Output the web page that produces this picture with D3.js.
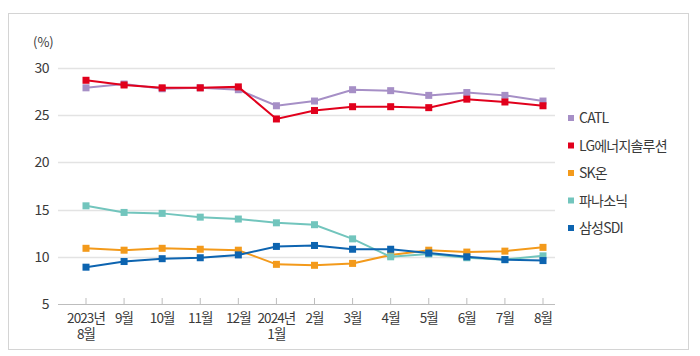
<!DOCTYPE html>
<html><head><meta charset="utf-8">
<script src="https://cdn.jsdelivr.net/npm/d3@7"></script>
<style>
body{margin:0;background:#fff;}
svg text{font-family:"Noto Sans CJK KR","Noto Sans",sans-serif;fill:#3a3a3a;}
</style></head>
<body><svg id="c" width="700" height="356"></svg>
<script>
const months = [["2023년","8월"],["9월"],["10월"],["11월"],["12월"],["2024년","1월"],["2월"],["3월"],["4월"],["5월"],["6월"],["7월"],["8월"]];
const seriesNames = ["CATL","LG에너지솔루션","SK온","파나소닉","삼성SDI"];
const colors = ["#a68fc6","#e1001c","#f39a1b","#72c5bd","#0d64b0"];
const catl = [27.9,28.3,27.8,27.9,27.7,26.0,26.5,27.7,27.6,27.1,27.4,27.1,26.5];
const lg   = [28.7,28.2,27.9,27.9,28.0,24.6,25.5,25.9,25.9,25.8,26.7,26.4,26.0];
const sk   = [10.9,10.7,10.9,10.8,10.7,9.2,9.1,9.3,10.2,10.7,10.5,10.6,11.0];
const pana = [15.4,14.7,14.6,14.2,14.0,13.6,13.4,11.9,10.0,10.3,9.9,9.7,10.1];
const sdi  = [8.9,9.5,9.8,9.9,10.2,11.1,11.2,10.8,10.8,10.4,10.0,9.7,9.6];
const yTicks = [5,10,15,20,25,30];
const allSeries = [catl,lg,sk,pana,sdi];

const svg = d3.select("#c");
// frame
svg.append("rect").attr("x",8.5).attr("y",13.5).attr("width",680).attr("height",336)
  .attr("fill","none").attr("stroke","#d4d4d4").attr("stroke-width",1);

const x = d3.scalePoint().domain(d3.range(months.length)).range([86,543]);
const y = d3.scaleLinear().domain([5,30]).range([304,68]);

// grid
svg.append("g").selectAll("line").data(yTicks.filter(d=>d>5)).join("line")
  .attr("x1",58).attr("x2",555).attr("y1",d=>Math.round(y(d))+0.5).attr("y2",d=>Math.round(y(d))+0.5)
  .attr("stroke","#e3e3e3").attr("stroke-width",1.5);
// x axis line
svg.append("line").attr("x1",58).attr("x2",555).attr("y1",304.5).attr("y2",304.5)
  .attr("stroke","#bdbdbd").attr("stroke-width",1.2);
svg.append("g").selectAll("line").data(d3.range(months.length)).join("line")
  .attr("x1",d=>x(d)).attr("x2",d=>x(d)).attr("y1",298).attr("y2",304)
  .attr("stroke","#bdbdbd");

// y labels
svg.append("g").selectAll("text").data(yTicks).join("text")
  .attr("x",49).attr("y",d=>y(d)+5).attr("text-anchor","end")
  .attr("font-size",14).attr("letter-spacing","-0.5").text(d=>d);
svg.append("text").attr("x",33).attr("y",47).attr("font-size",13).text("(%)");

// x labels (each line its own text)
const xlData = [];
months.forEach((m,i)=>m.forEach((s,k)=>xlData.push({s,i,k})));
svg.append("g").selectAll("text").data(xlData).join("text")
  .attr("text-anchor","middle").attr("font-size",13.5).attr("letter-spacing","-0.9")
  .attr("x",d=>x(d.i)).attr("y",d=>323+d.k*15.5).text(d=>d.s);

// lines
const line = d3.line().x((d,i)=>x(i)).y(d=>y(d));
allSeries.forEach((s,k)=>{
  const g = svg.append("g");
  g.append("path").attr("d",line(s)).attr("fill","none").attr("stroke",colors[k]).attr("stroke-width",2);
  g.selectAll("rect").data(s).join("rect")
    .attr("x",(d,i)=>x(i)-3.5).attr("y",d=>y(d)-3.5).attr("width",7).attr("height",7)
    .attr("fill",colors[k]);
});

// legend
const lgY = [118,145.5,173,200.5,228];
const leg = svg.append("g").selectAll("g").data(seriesNames).join("g")
  .attr("transform",(d,i)=>`translate(568,${lgY[i]})`);
leg.append("rect").attr("x",0).attr("y",-3).attr("width",6).attr("height",6).attr("fill",(d,i)=>colors[i]);
leg.append("text").attr("x",11).attr("y",5).attr("font-size",14).attr("letter-spacing","-0.8").text(d=>d);
</script></body></html>
